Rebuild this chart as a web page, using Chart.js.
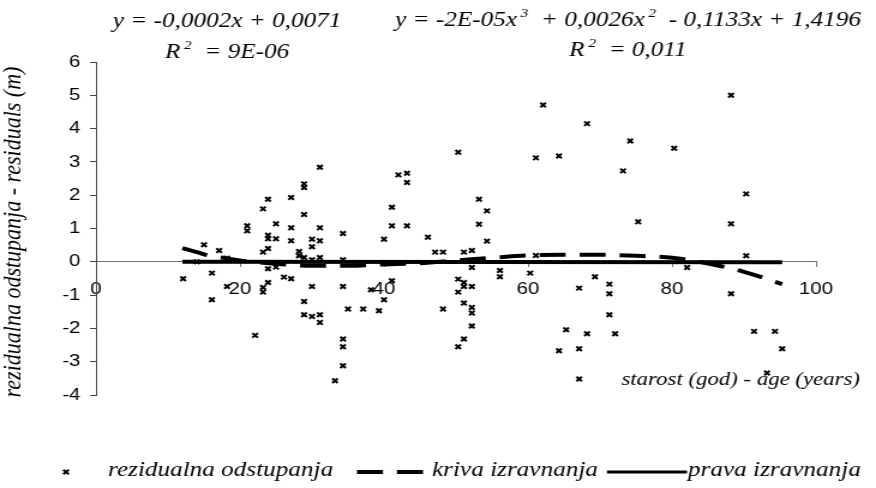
<!DOCTYPE html>
<html>
<head>
<meta charset="utf-8">
<script src="https://cdn.jsdelivr.net/npm/chart.js@4/dist/chart.umd.min.js"></script>
<style>
body { margin: 0; background: #fff; }
#mycanvas { display: block; width: 876px !important; height: 488px !important; }
</style>
</head>
<body>
<canvas id="mycanvas" width="730" height="488" style="width:876px;height:488px"></canvas>
<script>
// residuals (age in years, residual in m)
var ages = [
  31.1, 42.0, 28.9, 28.9, 23.9, 27.1, 23.2, 28.9, 41.1, 41.1,
  21.0, 21.0, 25.0, 27.1, 31.1, 34.3, 23.9, 23.9, 25.0, 27.1,
  30.0, 31.1, 40.0, 30.0, 23.9, 23.2, 15.0, 17.1, 28.2, 28.2,
  28.9, 30.0, 31.1, 34.3, 14.0, 18.2, 12.1, 16.1, 23.9, 25.0,
  23.9, 26.1, 27.1, 18.2, 23.2, 23.2, 30.0, 34.3, 38.2, 41.1,
  40.0, 16.1, 28.9, 35.0, 37.1, 39.3, 28.9, 30.0, 31.1, 31.1,
  22.1, 34.3, 34.3, 34.3, 33.2,
  62.1, 68.2, 50.3, 61.1, 64.3, 73.2, 74.2, 43.2, 43.2, 53.2,
  54.3, 43.2, 53.2, 46.1, 54.3, 47.1, 48.2, 51.1, 52.2, 61.1,
  52.2, 56.1, 56.1, 60.3, 69.3, 71.3, 71.3, 71.3, 67.1, 50.3,
  51.1, 51.1, 50.3, 52.2, 51.1, 48.2, 52.2, 52.2, 52.2, 51.1,
  50.3, 65.3, 68.2, 72.1, 64.3, 67.1, 67.1,
  88.2, 80.3, 90.3, 75.3, 88.2, 90.3, 82.1, 88.2, 91.4, 94.3,
  95.3, 93.2
];
var residuals = [
  2.84, 2.61, 2.34, 2.23, 1.88, 1.93, 1.59, 1.42, 1.64, 1.08,
  1.08, 0.93, 1.14, 1.02, 1.02, 0.85, 0.80, 0.69, 0.69, 0.63,
  0.68, 0.63, 0.68, 0.45, 0.40, 0.29, 0.51, 0.34, 0.31, 0.18,
  0.13, 0.06, 0.13, 0.06, 0.00, 0.11, -0.51, -0.34, -0.21, -0.16,
  -0.62, -0.46, -0.51, -0.74, -0.77, -0.91, -0.74, -0.74, -0.84, -0.57,
  -1.14, -1.14, -1.19, -1.42, -1.42, -1.47, -1.59, -1.64, -1.59, -1.82,
  -2.21, -2.32, -2.55, -3.12, -3.57,
  4.71, 4.15, 3.29, 3.12, 3.18, 2.73, 3.63, 2.66, 2.38, 1.88,
  1.53, 1.08, 1.13, 0.74, 0.62, 0.29, 0.29, 0.29, 0.34, 0.19,
  -0.17, -0.26, -0.45, -0.34, -0.45, -0.67, -0.96, -1.59, -0.79, -0.52,
  -0.62, -0.74, -0.91, -0.74, -1.24, -1.42, -1.37, -1.54, -1.93, -2.32,
  -2.55, -2.04, -2.16, -2.16, -2.67, -2.61, -3.52,
  5.00, 3.41, 2.04, 1.20, 1.14, 0.18, -0.17, -0.96, -2.09, -2.09,
  -2.61, -3.34
];

var curveAges = [12, 14, 16, 18, 20, 25, 30, 35, 40, 45, 50, 55, 60, 65, 70, 75, 80, 85, 90, 95.3];
var curveVals = [0.41, 0.29, 0.17, 0.11, 0.04, -0.06, -0.12, -0.12, -0.08, -0.04, 0.04, 0.12, 0.19, 0.21, 0.21, 0.18, 0.12, -0.05, -0.30, -0.67];

// straight trend (prava izravnanja)
var lineAges = [12, 95.3];
var lineVals = [0.005, -0.012];

var xMin = 0, xMax = 100, xStep = 20;
var yMin = -4, yMax = 6, yStep = 1;

var legendLabels = ['rezidualna odstupanja', 'kriva izravnanja', 'prava izravnanja'];
var eqLinear = [{t: 'y = -0,0002x + 0,0071'}];
var r2Linear = [{t: 'R'}, {t: '2', sup: true}, {t: '  = 9E-06'}];
var eqCubic = [{t: 'y = -2E-05x'}, {t: '3', sup: true}, {t: '  + 0,0026x'}, {t: '2', sup: true}, {t: '  - 0,1133x + 1,4196'}];
var r2Cubic = [{t: 'R'}, {t: '2', sup: true}, {t: '  = 0,011'}];
var yTitle = 'rezidualna odstupanja - residuals (m)';
var xTitle = 'starost (god) - age (years)';

// the original picture is stretched sideways; canvas is drawn narrower and widened by css
var S = 876 / 730;
function X(px) { return px / S; }

var serif = '"Liberation Serif", "Times New Roman", serif';
var sans = '"Liberation Sans", Arial, sans-serif';

function pts(xs, ys) {
  var out = [];
  for (var i = 0; i < xs.length; i++) out.push({x: xs[i], y: ys[i]});
  return out;
}

function drawRich(ctx, parts, centerX, baseY, size) {
  var main = 'italic ' + size + 'px ' + serif;
  var small = 'italic ' + Math.round(size * 0.62) + 'px ' + serif;
  var total = 0;
  parts.forEach(function (p) {
    ctx.font = p.sup ? small : main;
    p.w = ctx.measureText(p.t).width + (p.sup ? 3 : 0);
    total += p.w;
  });
  var x = centerX - total / 2;
  ctx.textAlign = 'left';
  ctx.textBaseline = 'alphabetic';
  parts.forEach(function (p) {
    ctx.font = p.sup ? small : main;
    ctx.fillText(p.t, x + (p.sup ? 3 : 0), baseY - (p.sup ? size * 0.42 : 0));
    x += p.w;
  });
}

var textPlugin = {
  id: 'texts',
  afterDraw: function (chart) {
    var ctx = chart.ctx;
    ctx.save();
    ctx.fillStyle = '#000';
    ctx.strokeStyle = '#000';

    // trendline equations
    drawRich(ctx, eqLinear, X(227), 27, 21);
    drawRich(ctx, r2Linear, X(227), 58, 21);
    drawRich(ctx, eqCubic, X(628), 26, 21);
    drawRich(ctx, r2Cubic, X(628), 56, 21);

    // y title
    ctx.save();
    ctx.translate(X(14), 232);
    ctx.rotate(-Math.PI / 2);
    ctx.font = 'italic 22px ' + serif;
    ctx.textAlign = 'center';
    ctx.textBaseline = 'middle';
    ctx.fillText(yTitle, 0, 0);
    ctx.restore();

    // x title inside the plot, bottom right
    ctx.font = 'italic 19px ' + serif;
    ctx.textAlign = 'right';
    ctx.textBaseline = 'alphabetic';
    ctx.fillText(xTitle, X(860), 385);

    // legend
    var ly = 472, lb = 476;
    ctx.lineWidth = 2;
    var mx = X(66), r = 2.3;
    ctx.beginPath();
    ctx.moveTo(mx - r, ly - r); ctx.lineTo(mx + r, ly + r);
    ctx.moveTo(mx - r, ly + r); ctx.lineTo(mx + r, ly - r);
    ctx.stroke();

    ctx.lineWidth = 4;
    ctx.setLineDash([X(26), X(14)]);
    ctx.beginPath(); ctx.moveTo(X(357), ly); ctx.lineTo(X(423), ly); ctx.stroke();
    ctx.setLineDash([]);
    ctx.lineWidth = 3;
    ctx.beginPath(); ctx.moveTo(X(607), ly); ctx.lineTo(X(687), ly); ctx.stroke();

    ctx.font = 'italic 21px ' + serif;
    ctx.textAlign = 'left';
    ctx.fillText(legendLabels[0], X(108), lb);
    ctx.fillText(legendLabels[1], X(432), lb);
    ctx.fillText(legendLabels[2], X(688), lb);
    ctx.restore();
  }
};

var ctx = document.getElementById('mycanvas');
var chart = new Chart(ctx, {
  type: 'scatter',
  data: {
    datasets: [
      {
        label: legendLabels[2],
        data: pts(lineAges, lineVals),
        showLine: true,
        borderColor: '#000',
        borderWidth: 4,
        pointRadius: 0,
        order: 0
      },
      {
        label: legendLabels[1],
        data: pts(curveAges, curveVals),
        showLine: true,
        borderColor: '#000',
        borderWidth: 4,
        borderDash: [X(26), X(14)],
        cubicInterpolationMode: 'monotone',
        pointRadius: 0,
        order: 1
      },
      {
        label: legendLabels[0],
        data: pts(ages, residuals),
        pointStyle: 'crossRot',
        pointRadius: 3.2,
        pointBorderWidth: 2,
        borderColor: '#000',
        backgroundColor: '#000',
        order: 2
      }
    ]
  },
  options: {
    responsive: false,
    animation: false,
    devicePixelRatio: 1,
    layout: { padding: { left: 0, top: 62, right: 730 - X(816), bottom: 488 - 395 } },
    plugins: { legend: { display: false }, tooltip: { enabled: false } },
    scales: {
      x: {
        type: 'linear',
        min: xMin, max: xMax,
        position: { y: 0 },
        ticks: { stepSize: xStep, color: '#000', font: { family: sans, size: 17 }, padding: 12, maxRotation: 0 },
        grid: { drawOnChartArea: false, drawTicks: true, tickLength: 5, color: '#707070' },
        border: { color: '#707070', width: 1 }
      },
      y: {
        min: yMin, max: yMax,
        ticks: { stepSize: yStep, color: '#000', font: { family: sans, size: 17 }, padding: 8 },
        grid: { drawOnChartArea: false, drawTicks: true, tickLength: 5, color: '#404040' },
        border: { color: '#404040', width: 1 },
        afterFit: function (scale) { scale.width = X(96); }
      }
    }
  },
  plugins: [textPlugin]
});
</script>
</body>
</html>
